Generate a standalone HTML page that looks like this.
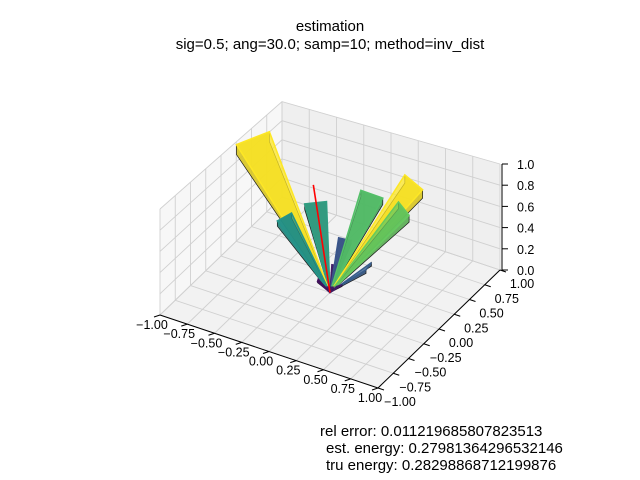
<!DOCTYPE html>
<html><head><meta charset="utf-8"><style>
body{margin:0;background:#fff}
svg{display:block;font-family:"Liberation Sans",sans-serif}
</style></head><body>
<svg id="c" width="640" height="480" viewBox="0 0 640 480">
<text x="330" y="31" text-anchor="middle" font-size="15">estimation</text>
<text x="330" y="49" text-anchor="middle" font-size="15">sig=0.5; ang=30.0; samp=10; method=inv_dist</text>
<g id="panes"></g><g id="marks"></g><g id="ticks"></g>
<text x="320" y="436" font-size="15">rel error: 0.011219685807823513</text>
<text x="326" y="453" font-size="15">est. energy: 0.27981364296532146</text>
<text x="326" y="470" font-size="15">tru energy: 0.28298868712199876</text>
</svg>
<script>
const xTicks=[-1,-0.75,-0.5,-0.25,0,0.25,0.5,0.75,1];
const yTicks=[-1,-0.75,-0.5,-0.25,0,0.25,0.5,0.75,1];
const zTicks=[0,0.2,0.4,0.6,0.8,1];
const petalAngles=[158,167,132,104,97,86,61,52,7,-30,-60,200];
const petalMags=[1.0,0.5,0.53,0.16,0.32,0.62,0.8,0.65,0.34,0.15,0.14,0.1];
const trueLine=[-0.29,0.245,0.8];
const NS="http://www.w3.org/2000/svg";
const O=[330,292.5],EX=[109,36.5],EY=[61,-59],EZ=[0,-106];
function P(x,y,z){const k=1-0.1*Math.max(0,(y-x)/2);return [O[0]+x*EX[0]+y*EY[0]+z*EZ[0]*k,O[1]+x*EX[1]+y*EY[1]+z*EZ[1]*k];}
function el(t,a,p){const e=document.createElementNS(NS,t);for(const k in a)e.setAttribute(k,a[k]);p.appendChild(e);return e;}
function pts(a){return a.map(p=>p.join(',')).join(' ');}
const panes=document.getElementById('panes'),marks=document.getElementById('marks'),ticks=document.getElementById('ticks');
let e;
e=el('polygon',{points:pts([P(-1,-1,0),P(1,-1,0),P(1,1,0),P(-1,1,0)]),fill:'#f2f2f2'},panes);

e=el('polygon',{points:pts([P(-1,-1,0),P(-1,1,0),P(-1,1,1),P(-1,-1,1)]),fill:'#f7f7f7'},panes);

e=el('polygon',{points:pts([P(-1,1,0),P(1,1,0),P(1,1,1),P(-1,1,1)]),fill:'#efefef'},panes);

const g='#d0d0d0';
xTicks.forEach(v=>{let a=P(v,-1,0),b=P(v,1,0),c=P(v,1,1);
 e=el('polyline',{points:pts([a,b,c]),fill:'none',stroke:g,'stroke-width':0.9},panes);
 });
yTicks.forEach(v=>{let a=P(1,v,0),b=P(-1,v,0),c=P(-1,v,1);
 e=el('polyline',{points:pts([a,b,c]),fill:'none',stroke:g,'stroke-width':0.9},panes);
 });
zTicks.forEach(v=>{let a=P(-1,-1,v),b=P(-1,1,v),c=P(1,1,v);
 e=el('polyline',{points:pts([a,b,c]),fill:'none',stroke:g,'stroke-width':0.9},panes);
 });
e=el('line',{x1:P(-1,-1,0)[0],y1:P(-1,-1,0)[1],x2:P(1,-1,0)[0],y2:P(1,-1,0)[1],stroke:'#000','stroke-width':1},ticks);

e=el('line',{x1:P(1,-1,0)[0],y1:P(1,-1,0)[1],x2:P(1,1,0)[0],y2:P(1,1,0)[1],stroke:'#000','stroke-width':1},ticks);

e=el('line',{x1:P(1,1,0)[0]+2,y1:P(1,1,0)[1],x2:P(1,1,1)[0]+2,y2:P(1,1,1)[1],stroke:'#000','stroke-width':1},ticks);

function lbl(s){return (s<0?'\u2212':'')+Math.abs(s).toFixed(2);}
xTicks.forEach(v=>{let p=P(v,-1,0);
 el('line',{x1:p[0],y1:p[1],x2:p[0]-6,y2:p[1]+2,stroke:'#000'},ticks);
 e=el('text',{x:p[0]-8,y:p[1]+14,'font-size':12.5,'text-anchor':'middle'},ticks);e.textContent=lbl(v);
 });
yTicks.forEach(v=>{let p=P(1,v,0);
 el('line',{x1:p[0],y1:p[1],x2:p[0]+6,y2:p[1]+2,stroke:'#000'},ticks);
 e=el('text',{x:p[0]+22,y:p[1]+18,'font-size':12.5,'text-anchor':'middle'},ticks);e.textContent=lbl(v);
 });
zTicks.forEach(v=>{let p=P(1,1,v);
 el('line',{x1:p[0]+2,y1:p[1],x2:p[0]+8,y2:p[1],stroke:'#000'},ticks);
 e=el('text',{x:p[0]+17,y:p[1]+5,'font-size':12.5},ticks);e.textContent=v.toFixed(1);
 });
const VS=[[68,1,84],[59,82,139],[33,145,140],[94,201,98],[253,231,37]];
function vir(t){t=Math.max(0,Math.min(1,t))*4;const i=Math.min(3,Math.floor(t)),f=t-i;
 const c=VS[i].map((v,k)=>Math.round(v+(VS[i+1][k]-v)*f));return 'rgb('+c.join(',')+')';}
function shade(c,f){return c.replace(/\d+/g,v=>Math.round(v*f));}
const order=petalAngles.map((a,i)=>i).sort((i,j)=>{
 const d=k=>Math.cos(petalAngles[k]*Math.PI/180)-Math.sin(petalAngles[k]*Math.PI/180);return d(i)-d(j);});
order.forEach(i=>{const a=petalAngles[i]*Math.PI/180,r=petalMags[i],w=0.17;
 const o=P(0,0,0),t1=P(r*Math.cos(a-w),r*Math.sin(a-w),r),t2=P(r*Math.cos(a+w),r*Math.sin(a+w),r),
 t3=P(r*Math.cos(a+w),r*Math.sin(a+w),r*0.9),t4=P(r*Math.cos(a-w),r*Math.sin(a-w),r*0.9);
 const col=vir(Math.pow(r/0.78,1.5));
 e=el('polygon',{points:pts([o,t4,t1,t2,t3]),fill:shade(col,0.85),'fill-opacity':0.9,stroke:'#1a1a1a','stroke-width':0.7},marks);
 
 e=el('polygon',{points:pts([o,t1,t2]),fill:col,'fill-opacity':0.75,stroke:col,'stroke-width':1.5},marks);
 });
const q=P(...trueLine),o=P(0,0,0);
e=el('line',{x1:o[0],y1:o[1],x2:q[0],y2:q[1],stroke:'red','stroke-width':1.6},marks);

</script>
</body></html>
